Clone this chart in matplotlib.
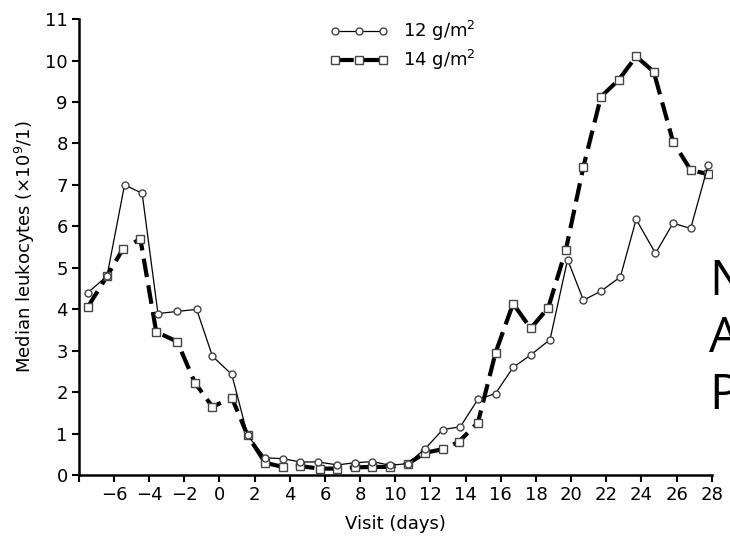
import numpy as np
import matplotlib as mpl
mpl.use('Agg')
import matplotlib.pyplot as plt

fontsize = 13

## 12 g/m2 series (open circles, thin solid line)
day12 = [-7.5, -6.4, -5.4, -4.4, -3.5, -2.4, -1.3, -0.4, 0.7, 1.6, 2.6, 3.6,
         4.6, 5.6, 6.7, 7.7, 8.7, 9.7, 10.7, 11.7, 12.7, 13.7, 14.7, 15.7,
         16.7, 17.7, 18.8, 19.8, 20.7, 21.7, 22.8, 23.7, 24.8, 25.8, 26.8, 27.8]
leuko12 = [4.4, 4.8, 7.0, 6.8, 3.9, 3.95, 4.0, 2.87, 2.43, 0.96, 0.42, 0.4,
           0.32, 0.32, 0.25, 0.3, 0.33, 0.24, 0.28, 0.64, 1.1, 1.17, 1.83, 1.97,
           2.6, 2.9, 3.27, 5.2, 4.22, 4.44, 4.78, 6.17, 5.35, 6.08, 5.95, 7.48]

## 14 g/m2 series (open squares, thick dashed line)
day14 = [-7.5, -6.4, -5.5, -4.5, -3.6, -2.4, -1.4, -0.4, 0.7, 1.6, 2.6, 3.6,
         4.6, 5.7, 6.7, 7.7, 8.7, 9.7, 10.7, 11.7, 12.7, 13.6, 14.7, 15.7,
         16.7, 17.7, 18.7, 19.7, 20.7, 21.7, 22.7, 23.7, 24.7, 25.8, 26.8, 27.8]
leuko14 = [4.05, 4.8, 5.45, 5.7, 3.46, 3.22, 2.23, 1.65, 1.87, 0.96, 0.3, 0.2,
           0.22, 0.16, 0.16, 0.19, 0.2, 0.2, 0.27, 0.54, 0.63, 0.8, 1.27, 2.95,
           4.14, 3.54, 4.04, 5.43, 7.44, 9.13, 9.53, 10.1, 9.73, 8.04, 7.36, 7.26]

xticks = list(range(-8, 29, 2))
xlabels = [''] + [str(t).replace('-', '\u2212') for t in xticks[1:]]
yticks = list(range(0, 12))

fig = plt.figure(figsize=(7.3, 5.45), dpi=100)
ax = fig.add_axes([0.108, 0.128, 0.867, 0.837])

ax.plot(day14, leuko14, color='black', lw=3.0, ls=(0, (4.5, 2.0)),
        marker='s', ms=5.5, mfc='white', mec='#444444', mew=1.0,
        label='14 g/m$^2$', zorder=2)
ax.plot(day12, leuko12, color='black', lw=0.9, ls='-',
        marker='o', ms=5, mfc='white', mec='#444444', mew=1.0,
        label='12 g/m$^2$', zorder=3)

ax.set_xlim(-8, 28)
ax.set_ylim(0, 11)
ax.set_xticks(xticks)
ax.set_xticklabels(xlabels, fontsize=fontsize)
ax.set_yticks(yticks)
ax.set_yticklabels([str(t) for t in yticks], fontsize=fontsize)
ax.tick_params(direction='out', length=5, width=1.5, pad=3)
for s in ['top', 'right']:
    ax.spines[s].set_visible(False)
for s in ['left', 'bottom']:
    ax.spines[s].set_linewidth(1.8)

ax.set_xlabel('Visit (days)', fontsize=fontsize, labelpad=8)
ax.set_ylabel('Median leukocytes ($\\times$10$^9$/1)', fontsize=fontsize, labelpad=6)

h, l = ax.get_legend_handles_labels()
ax.legend(h[::-1], l[::-1], loc='upper left', bbox_to_anchor=(0.37, 1.035),
          frameon=False, fontsize=fontsize, handlelength=3.3, numpoints=3,
          handletextpad=0.8, labelspacing=0.25)

## overlay text cut off at right edge, as in the source
for i, ch in enumerate(['N', 'A', 'P']):
    fig.text(709 / 730, 1 - (295 + 57 * i) / 545, ch, fontsize=35,
             family='Open Sans', ha='left', va='baseline')

plt.savefig('out.png', dpi=100)
